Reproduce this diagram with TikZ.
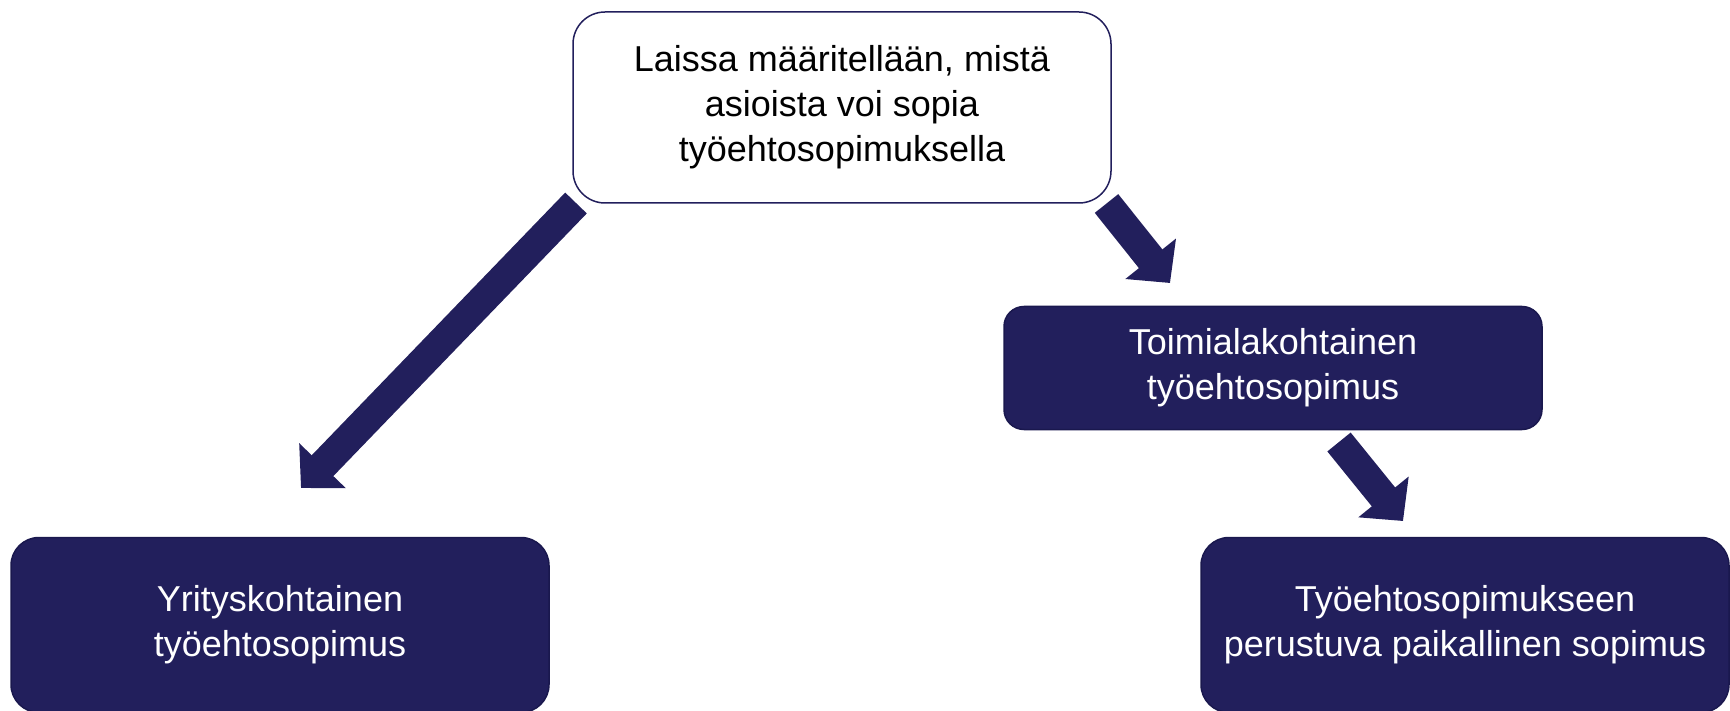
\documentclass[tikz,border=0pt]{standalone}
\usepackage{fontspec}
\setmainfont{Liberation Sans}
\usetikzlibrary{arrows.meta}
\definecolor{navy}{RGB}{34,31,92}
\definecolor{navyline}{RGB}{26,24,78}
\tikzset{
	box/.style={rectangle, draw=navyline, line width=1.5pt, fill=navy, text=white,
		minimum width=538pt, inner sep=0pt, align=center,
		font=\fontsize{36}{45}\selectfont},
	fatarrow/.style={draw=navy, line width=30pt,
		-{Triangle[length=31pt,width=63pt]}}}

\begin{document}
\begin{tikzpicture}[x=1pt,y=-1pt]
\useasboundingbox (0,0) rectangle (1730,711);

%\draw[red] (0,0) rectangle (1730,711);
\node[box, fill=white, text=black, draw=navy, minimum height=191pt, rounded corners=32pt]
	(law) at (842,107.5) {Laissa määritellään, mistä\\asioista voi sopia\\työehtosopimuksella};
\node[box, minimum height=175pt, rounded corners=28pt]
	(firm) at (280,625) {Yrityskohtainen\\työehtosopimus};
\node[box, minimum height=123pt, rounded corners=20pt]
	(branch) at (1273,368) {Toimialakohtainen\\työehtosopimus};
\node[box, minimum width=528pt, minimum height=175pt, rounded corners=28pt]
	(local) at (1465,625) {Työehtosopimukseen\\perustuva paikallinen sopimus};

% arrow ends
\coordinate (lawL) at (576,203);
\coordinate (firmT) at (301,488);
\coordinate (lawR) at (1106.5,203.5);
\coordinate (branchT) at (1170,283);
\coordinate (branchB) at (1339,442);
\coordinate (localT) at (1403,521);

\draw[fatarrow] (lawL) -- (firmT);
\draw[fatarrow] (lawR) -- (branchT);
\draw[fatarrow] (branchB) -- (localT);
\end{tikzpicture}
\end{document}
